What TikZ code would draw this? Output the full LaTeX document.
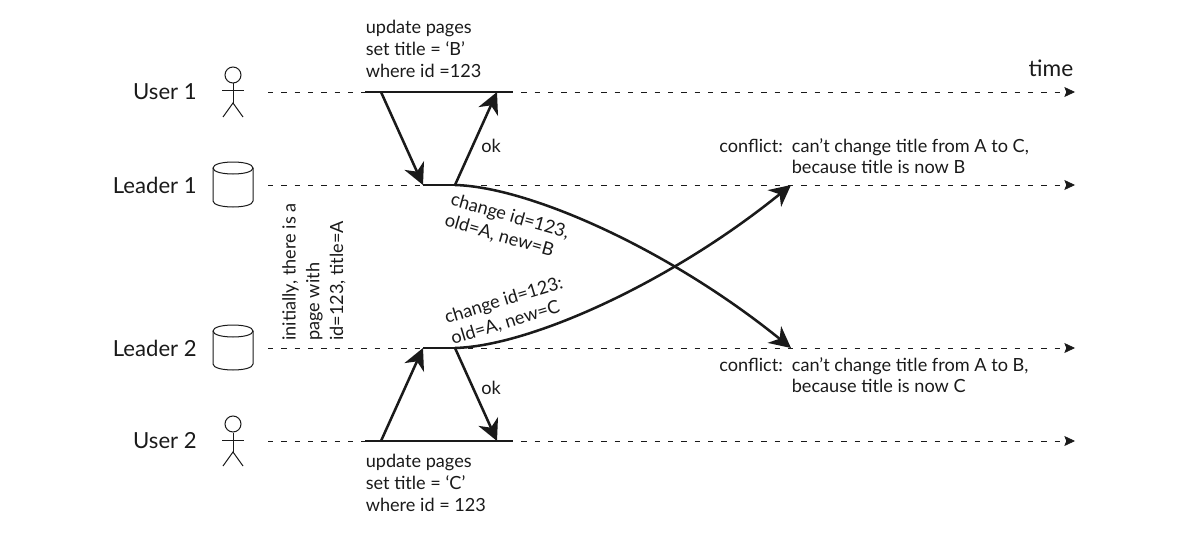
\documentclass[tikz,border=0pt]{standalone}
\usepackage{fontspec}
\setmainfont{Lato}
\usetikzlibrary{%
    arrows.meta,
    positioning
}
\definecolor{inkline}{HTML}{1A1A1A}
\tikzset{
    timeline/.style = {inkline, line width=.55pt, dash pattern=on 4pt off 6pt, -{Stealth[length=8pt,width=7.5pt,inset=1.5pt]}},
    heavyline/.style = {inkline, line width=1.9pt},
    headarrow/.style = {inkline, line width=1.9pt, -{Stealth[length=16pt,width=16pt,inset=5pt]}},
    actorname/.style = {anchor=east, inner sep=0pt, text=inkline, font=\fontsize{16.6}{20}\selectfont},
    stickline/.style = {inkline, line width=.75pt},
    note/.style = {align=left, inner sep=0pt, text=inkline, font=\fontsize{13.6}{16.4}\selectfont}
}

\begin{document}
\begin{tikzpicture}[x=.75pt, y=-.75pt]
    \useasboundingbox (0,0) rectangle (1186,542);

    % time lines
    \foreach \Line/\Y in {U1/92, L1/185, L2/348, U2/441}
        {
        \coordinate (\Line start) at (268,\Y);
        \coordinate (\Line end) at (1075,\Y);
        \draw[timeline] (\Line start) -- (\Line end);
        }

    % actors
    \node[actorname] (user1) at (197,92) {User 1};
    \node[actorname] (leader1) at (197,185) {Leader 1};
    \node[actorname] (leader2) at (197,348) {Leader 2};
    \node[actorname] (user2) at (197,441) {User 2};

    % stick figures
    \foreach \Fig/\Y in {figA/75, figB/424}
        {
        \node[circle, draw=inkline, line width=.75pt, minimum size=12pt, inner sep=0pt] (\Fig) at (233,\Y) {};
        \coordinate (\Fig hip) at (233,\Y+28);
        \coordinate (\Fig armL) at (222,\Y+16);
        \coordinate (\Fig armR) at (244,\Y+16);
        \coordinate (\Fig legL) at (223,\Y+42);
        \coordinate (\Fig legR) at (243,\Y+42);
        \draw[stickline] (\Fig) -- (\Fig hip);
        \draw[stickline] (\Fig armL) -- (\Fig armR);
        \draw[stickline] (\Fig legL) -- (\Fig hip) -- (\Fig legR);
        }

    % databases
    \foreach \Y in {168, 331}
        {
        \fill[white] (213,\Y) rectangle (253,\Y+34);
        \draw[stickline] (213,\Y) .. controls (213,\Y-8) and (253,\Y-8) .. (253,\Y)
            .. controls (253,\Y+8) and (213,\Y+8) .. (213,\Y);
        \draw[stickline] (213,\Y) -- (213,\Y+33)
            .. controls (213,\Y+41) and (253,\Y+41) .. (253,\Y+33) -- (253,\Y);
        }

    % request points
    \foreach \Name/\X/\Y in {%
        ua/365/92, ub/381/92, uc/497/92, ud/513/92,
        la/423/185, lb/455/185,
        ma/423/348, mb/455/348,
        va/365/441, vb/381/441, vc/497/441, vd/513/441%
        }
        \coordinate (\Name) at (\X,\Y);
    \coordinate (cA) at (791,185);
    \coordinate (cB) at (791,348);

    % thick spans
    \foreach \Source/\Target in {ua/ud, la/lb, ma/mb, va/vd}
        \draw[heavyline] (\Source) -- (\Target);

    % request and reply arrows
    \foreach \Source/\Target in {ub/la, lb/uc, vb/ma, mb/vc}
        \draw[headarrow] (\Source) -- (\Target);

    % replication
    \draw[headarrow] (lb) .. controls (530,187) and (670,250) .. (cB);
    \draw[headarrow] (mb) .. controls (530,346) and (670,283) .. (cA);

    % labels
    \node[note, anchor=north west] (reqA) at (365.5,20) {update pages\\set title = ‘B’\\where id =123};
    \node[note, anchor=north west] (reqB) at (365.5,454) {update pages\\set title = ‘C’\\where id = 123};
    \node[note] (okA) at (491,146) {ok};
    \node[note] (okB) at (491,388) {ok};
    \node[inner sep=0pt, text=inkline, font=\fontsize{17}{20}\selectfont] (timeword) at (1051,68) {time};
    \node[note, anchor=north west] (confA) at (719,138) {conflict:\hspace{.5em}can’t change title from A to C,\\\phantom{conflict:\hspace{.5em}}because title is now B};
    \node[note, anchor=north west] (confB) at (719,357) {conflict:\hspace{.5em}can’t change title from A to B,\\\phantom{conflict:\hspace{.5em}}because title is now C};
    \node[note, rotate=-16] (chgA) at (507,227) {change id=123,\\old=A, new=B};
    \node[note, rotate=17] (chgB) at (507,311) {change id=123:\\old=A, new=C};
    \node[note, rotate=90, anchor=north west, font=\fontsize{13.6}{17.8}\selectfont] (initnote) at (282,341) {initially, there is a\\page with\\id=123, title=A};
\end{tikzpicture}
\end{document}
